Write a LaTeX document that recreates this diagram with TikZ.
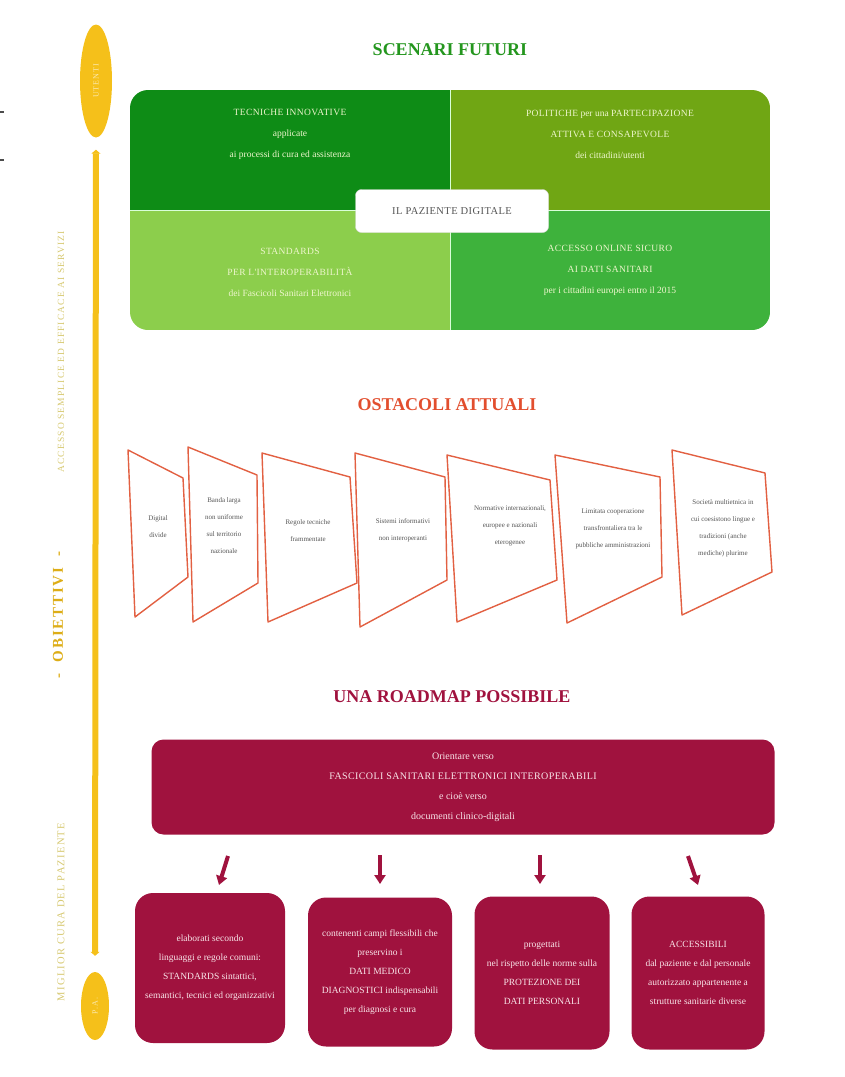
\documentclass[tikz,border=0pt]{standalone}
\usepackage{fontspec}
\setmainfont{Liberation Serif}
\newfontfamily\largafont[LetterSpace=12]{Liberation Serif}
\newfontfamily\spaziato[LetterSpace=4]{Liberation Serif}
\usetikzlibrary{arrows.meta,shapes.geometric}
\definecolor{verdeA}{RGB}{14,140,22}
\definecolor{verdeB}{RGB}{112,166,20}
\definecolor{verdeC}{RGB}{140,206,76}
\definecolor{verdeD}{RGB}{62,178,60}
\definecolor{verdeT}{RGB}{36,150,30}
\definecolor{chiaro}{RGB}{238,246,205}
\definecolor{arancio}{RGB}{226,78,46}
\definecolor{bordo}{RGB}{226,96,66}
\definecolor{grigio}{RGB}{85,85,85}
\definecolor{rosso}{RGB}{160,18,62}
\definecolor{rosa}{RGB}{248,228,232}
\definecolor{giallo}{RGB}{245,192,26}
\definecolor{giallino}{RGB}{214,200,112}
\tikzset{
  quadtext/.style={text=chiaro, align=center, font=\fontsize{9.5}{21}\selectfont},
  ostacolo/.style={draw=bordo, line width=1.4pt, fill=white},
  ostext/.style={text=grigio, align=center, font=\fontsize{7}{17}\selectfont},
  tappa/.style={fill=rosso, rounded corners=18pt, text=rosa, align=center, font=\fontsize{9.5}{19}\selectfont},
  titolo/.style={font=\fontsize{18}{20}\selectfont\bfseries},
  freccia/.style={draw=rosso, line width=4pt, line cap=butt, -{Triangle[width=11pt,length=9pt]}},
  ovale/.style={ellipse, fill=giallo, inner sep=0pt, text=giallo!35!white, font=\fontsize{8}{9}\largafont}
}
\begin{document}
\begin{tikzpicture}[x=1pt, y=-1pt, line join=round]
\useasboundingbox (0,0) rectangle (844,1077);
\draw[line width=1.2pt, black!70] (0,112)--(4,112) (0,160)--(4,160);

% asse obiettivi
\node[ovale, minimum width=32pt, minimum height=113pt] (ut) at (96,81) {\rotatebox{90}{UTENTI}};
\node[ovale, minimum width=28pt, minimum height=68pt] (pa) at (95,1006) {\rotatebox{90}{P.A.}};
\draw[giallo, line width=6pt, line cap=butt, {Triangle[width=9pt,length=4pt]}-{Triangle[width=9pt,length=4pt]}, shorten <=12pt, shorten >=16pt] (ut) -- (pa);
\node[rotate=90, text=giallino, font=\fontsize{9.5}{11}\largafont] (acc) at (61,352) {ACCESSO SEMPLICE ED EFFICACE AI SERVIZI};
\node[rotate=90, text=giallo!90!black, font=\fontsize{15}{17}\largafont\bfseries] (obi) at (58,615) {- \ OBIETTIVI \ -};
\node[rotate=90, text=giallino, font=\fontsize{10.5}{12}\largafont] (cura) at (61,912) {MIGLIOR CURA DEL PAZIENTE};

% scenari futuri
\node[titolo, text=verdeT] (t1) at (450,50) {SCENARI FUTURI};
\begin{scope}
  \clip[rounded corners=18pt] (130,90) rectangle (770,330);
  \fill[verdeA] (130,90) rectangle (450,210);
  \fill[verdeB] (450,90) rectangle (770,210);
  \fill[verdeC] (130,210) rectangle (450,330);
  \fill[verdeD] (450,210) rectangle (770,330);
\end{scope}
\draw[white!85!green, line width=0.8pt] (450,90)--(450,330) (130,210)--(770,210);
\node[quadtext] (q1) at (290,134) {{\spaziato TECNICHE INNOVATIVE}\\applicate\\ai processi di cura ed assistenza};
\node[quadtext] (q2) at (610,134) {{\spaziato POLITICHE} per una {\spaziato PARTECIPAZIONE}\\{\spaziato ATTIVA E CONSAPEVOLE}\\dei cittadini/utenti};
\node[quadtext] (q3) at (290,272) {{\spaziato STANDARDS}\\{\spaziato PER L'INTEROPERABILITÀ}\\dei Fascicoli Sanitari Elettronici};
\node[quadtext] (q4) at (610,270) {{\spaziato ACCESSO ONLINE SICURO}\\{\spaziato AI DATI SANITARI}\\per i cittadini europei entro il 2015};
\node[fill=white, draw=black!15, rounded corners=6pt, minimum width=193pt, minimum height=43pt,
  text=grigio, font=\fontsize{10.5}{12}\spaziato] (pd) at (452,211) {IL PAZIENTE DIGITALE};

% ostacoli attuali
\node[titolo, text=arancio] (t2) at (447,405) {OSTACOLI ATTUALI};
\foreach \n/\a/\b/\c/\d/\m/\t in {
  1/{128,450}/{183,478}/{188,577}/{135,617}/{158,527}/{Digital\\divide},
  2/{188,447}/{257,475}/{258,583}/{193,622}/{224,526}/{Banda larga\\non uniforme\\sul territorio\\nazionale},
  3/{262,453}/{350,477}/{357,583}/{268,622}/{308,531}/{Regole tecniche\\frammentate},
  4/{355,453}/{445,477}/{447,580}/{360,627}/{403,530}/{Sistemi informativi\\non interoperanti},
  5/{447,455}/{550,480}/{557,580}/{457,622}/{510,526}/{Normative internazionali,\\europee e nazionali\\eterogenee},
  6/{555,455}/{660,477}/{662,577}/{567,623}/{613,529}/{Limitata cooperazione\\transfrontaliera tra le\\pubbliche amministrazioni},
  7/{672,450}/{765,473}/{772,572}/{682,615}/{723,528}/{Società multietnica in\\cui coesistono lingue e\\tradizioni (anche\\mediche) plurime}}
  {\draw[ostacolo] (\a) -- (\b) -- (\c) -- (\d) -- cycle;
   \node[ostext] (o\n) at (\m) {\t};}

% una roadmap possibile
\node[titolo, text=rosso] (t3) at (452,697) {UNA ROADMAP POSSIBILE};
\node[tappa, rounded corners=12pt, minimum width=623pt, minimum height=95pt, font=\fontsize{10}{20}\selectfont] (road) at (463,787)
  {Orientare verso\\{\spaziato FASCICOLI SANITARI ELETTRONICI INTEROPERABILI}\\e cioè verso\\documenti clinico-digitali};
\node[tappa, minimum width=150pt, minimum height=150pt] (m1) at (210,968)
  {elaborati secondo\\linguaggi e regole comuni:\\STANDARDS sintattici,\\semantici, tecnici ed organizzativi};
\node[tappa, minimum width=144pt, minimum height=149pt] (m2) at (380,972)
  {contenenti campi flessibili che\\preservino i\\DATI MEDICO\\DIAGNOSTICI indispensabili\\per diagnosi e cura};
\node[tappa, minimum width=135pt, minimum height=153pt] (m3) at (542,973)
  {progettati\\nel rispetto delle norme sulla\\PROTEZIONE DEI\\DATI PERSONALI};
\node[tappa, minimum width=133pt, minimum height=153pt] (m4) at (698,973)
  {ACCESSIBILI\\dal paziente e dal personale\\autorizzato appartenente a\\strutture sanitarie diverse};
\path (228,856) coordinate (s1) (219,885) coordinate (e1)
      (380,855) coordinate (s2) (380,884) coordinate (e2)
      (540,855) coordinate (s3) (540,884) coordinate (e3)
      (688,856) coordinate (s4) (698,885) coordinate (e4);
\foreach \i in {1,...,4}
  {\draw[freccia] (s\i) -- (e\i);}
\end{tikzpicture}
\end{document}
